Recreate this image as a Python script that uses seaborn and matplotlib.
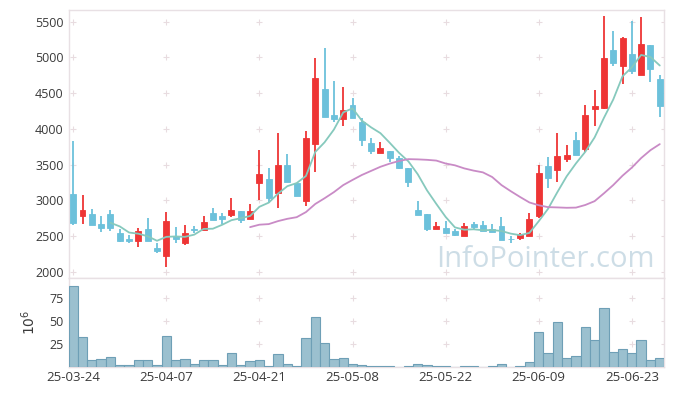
import numpy as np
import pandas as pd
import matplotlib
matplotlib.use("Agg")
import matplotlib.pyplot as plt
import seaborn as sns

# ---- data ----
dates = pd.bdate_range("2025-03-24", "2025-06-26")
holidays = pd.to_datetime(["2025-05-01", "2025-05-05", "2025-05-06", "2025-06-03", "2025-06-06"])
dates = dates[~dates.isin(holidays)]
date_labels = [d.strftime("%y-%m-%d") for d in dates]

open_ = [3087, 2784, 2807, 2667, 2807, 2541, 2462, 2434, 2597, 2336,
         2224, 2504, 2397, 2597, 2588, 2821, 2779, 2798, 2849, 2742,
         3237, 3293, 3097, 3493, 3241, 2994, 3783, 4553, 4189, 4142,
         4333, 4100, 3797, 3657, 3689, 3587, 3456, 2863, 2807, 2602,
         2611, 2569, 2504, 2667, 2653, 2602, 2635, 2462, 2476, 2504,
         2784, 3479, 3419, 3582, 3843, 3722, 4273, 4296, 5103, 4884,
         5052, 4749, 5174, 4698]
close = [2686, 2863, 2653, 2611, 2611, 2434, 2434, 2569, 2434, 2294,
         2709, 2462, 2541, 2588, 2695, 2723, 2737, 2863, 2728, 2849,
         3367, 3027, 3493, 3251, 3064, 3867, 4707, 4170, 4142, 4263,
         4156, 3848, 3694, 3736, 3587, 3456, 3251, 2798, 2602, 2639,
         2546, 2518, 2635, 2630, 2574, 2560, 2448, 2453, 2523, 2733,
         3377, 3316, 3619, 3633, 3638, 4189, 4320, 4987, 4917, 5267,
         4814, 5188, 4842, 4324]
high = [3829, 3069, 2877, 2779, 2863, 2597, 2509, 2607, 2747, 2397,
        2835, 2621, 2653, 2639, 2779, 2891, 2821, 3027, 2849, 2943,
        3699, 3447, 3937, 3647, 3241, 3974, 4987, 5127, 4674, 4581,
        4436, 4156, 3876, 3820, 3689, 3624, 3456, 2989, 2807, 2695,
        2705, 2602, 2677, 2695, 2709, 2667, 2770, 2499, 2541, 2817,
        3489, 3610, 3946, 3773, 3955, 4338, 4543, 5580, 5365, 5290,
        5514, 5561, 5174, 4749]
low = [2653, 2663, 2653, 2560, 2565, 2411, 2397, 2350, 2434, 2266,
       2061, 2397, 2369, 2546, 2588, 2723, 2672, 2770, 2686, 2742,
       3003, 2966, 2896, 3251, 3064, 2919, 3391, 4170, 4100, 4039,
       4156, 3759, 3643, 3657, 3540, 3433, 3181, 2798, 2574, 2602,
       2546, 2499, 2504, 2602, 2565, 2560, 2448, 2406, 2443, 2504,
       2751, 3176, 3260, 3540, 3638, 3680, 4039, 4273, 4880, 4628,
       4767, 4749, 4656, 4170]
volume = [88, 32.4, 7.3, 8.4, 10.6, 2.2, 2.2, 7.3, 7.3, 2.2,
          33.5, 7.3, 8.4, 2.9, 7.3, 7.3, 2.2, 14.9, 2.2, 6.2,
          7.3, 0.7, 13.8, 2.9, 0.7, 31.3, 54.2, 25.8, 8.4, 9.5,
          2.9, 2.2, 0.7, 0.7, 0.7, 0.2, 0.7, 2.9, 2.2, 0.7,
          0.7, 0.2, 0.7, 0.7, 0.2, 0.7, 2.9, 0.2, 0.7, 5.1,
          37.8, 14.9, 48.8, 9.5, 11.6, 43.3, 29.1, 64.0, 16.0, 19.3,
          14.9, 29.1, 7.3, 9.5]

price_ticks = [2000, 2500, 3000, 3500, 4000, 4500, 5000, 5500]
vol_ticks = [25, 50, 75]

df = pd.DataFrame({"idx": np.arange(len(close)), "open": open_, "close": close,
                   "high": high, "low": low, "volume": volume, "date": date_labels})
df["ma5"] = df["close"].rolling(5).mean()
df["ma20"] = df["close"].rolling(20).mean()

# ---- style ----
sns.set_theme(style="white")
plt.rcParams["font.family"] = ["Open Sans", "DejaVu Sans"]
RED = "#EE3535"
BLUE = "#6CC1DB"
TXT = "#3a3a3a"
BORDER = "#E8E0E4"

W, H = 673, 396
fig = plt.figure(figsize=(W / 100, H / 100), dpi=100)
left, right = 69, 663.5
ax1 = fig.add_axes([left / W, 1 - 277.7 / H, (right - left) / W, (277.7 - 10) / H])
ax2 = fig.add_axes([left / W, 1 - 367 / H, (right - left) / W, (367 - 278.3) / H], sharex=ax1)

up = df["close"] >= df["open"]
colors = np.where(up, RED, BLUE)

# wicks
ax1.vlines(df["idx"], df["low"], df["high"], colors=colors, linewidth=1.3, zorder=3)
# bodies
body_lo = np.minimum(df["open"], df["close"])
body_h = np.maximum(np.abs(df["close"] - df["open"]), 8)
ax1.bar(df["idx"], body_h, bottom=body_lo, width=0.64, color=colors, edgecolor=colors,
        linewidth=0.6, zorder=4)

# moving averages
sns.lineplot(data=df, x="idx", y="ma5", ax=ax1, color="#86C9BD", linewidth=1.3, zorder=5)
sns.lineplot(data=df, x="idx", y="ma20", ax=ax1, color="#C98BC6", linewidth=1.3, zorder=5)

# volume
sns.barplot(data=df, x="idx", y="volume", ax=ax2, native_scale=True, width=1.0,
            color="#9BC0CF", edgecolor="#6E9FB6", linewidth=0.8, saturation=1, zorder=3)

xticks = list(range(0, len(df), 10))
for ax in (ax1, ax2):
    ax.set_xlim(-0.45, len(df) - 1 + 0.4)
    ax.set_xlabel("")
    ax.set_ylabel("")
    for s in ax.spines.values():
        s.set_color(BORDER)
        s.set_linewidth(1.0)
    ax.tick_params(axis="both", length=0, colors=TXT, labelsize=9, pad=4)

ax1.set_ylim(1916, 5664)
ax1.set_yticks(price_ticks)
ax1.tick_params(axis="x", labelbottom=False)
ax2.set_ylim(0, 96.8)
ax2.set_yticks(vol_ticks)
ax2.set_xticks(xticks)
ax2.set_xticklabels([date_labels[i] for i in xticks], fontsize=9.5)
ax2.tick_params(axis="x", pad=3)

# '+' grid markers at tick intersections
gx, gy = np.meshgrid(xticks + [len(df) - 1 + 0.4], price_ticks)
ax1.scatter(gx.ravel(), gy.ravel(), marker="+", s=14, color="#E8DCE0", linewidths=0.8, zorder=1)
gx2, gy2 = np.meshgrid(xticks + [len(df) - 1 + 0.4], vol_ticks)
ax2.scatter(gx2.ravel(), gy2.ravel(), marker="+", s=14, color="#E8DCE0", linewidths=0.8, zorder=1)

fig.text(30 / W, 1 - 322 / H, r"$10^6$", rotation=90, ha="center", va="center",
         color=TXT, fontsize=10)

# watermark
fig.text(655 / W, 1 - 267 / H, "InfoPointer.com", ha="right", va="baseline",
         color="#C8DAE4", fontsize=21, zorder=0, alpha=0.9)

fig.savefig("out.png", dpi=100)
